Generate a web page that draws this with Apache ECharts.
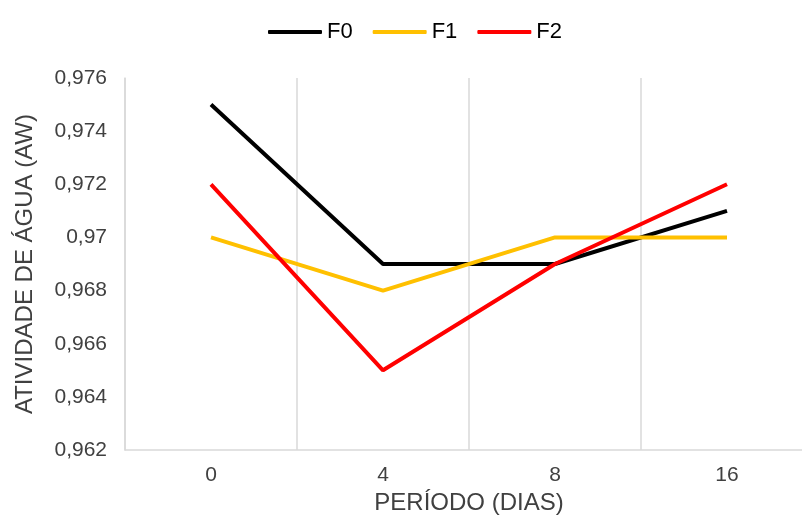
<!DOCTYPE html>
<html>
<head>
<meta charset="utf-8">
<script src="https://cdn.jsdelivr.net/npm/echarts@6/dist/echarts.min.js"></script>
<style>
  html, body { margin: 0; padding: 0; background: #fff; }
  #chart { width: 802px; height: 521px; }
</style>
</head>
<body>
<div id="chart"></div>
<script>
// Water activity over storage period for three formulations
const periods = ['0', '4', '8', '16'];
const seriesNames = ['F0', 'F1', 'F2'];
const f0 = [0.975, 0.969, 0.969, 0.971];
const f1 = [0.970, 0.968, 0.970, 0.970];
const f2 = [0.972, 0.965, 0.969, 0.972];
const colors = ['#000000', '#FFC000', '#FF0000'];

const font = 'Liberation Sans, Arial, sans-serif';
const fmt = v => String(+v.toFixed(3)).replace('.', ',');

const chart = echarts.init(document.getElementById('chart'));
chart.setOption({
  animation: false,
  color: colors,
  legend: {
    top: 16,
    left: 263,
    icon: 'roundRect',
    itemWidth: 54,
    itemHeight: 4,
    itemGap: 20,
    textStyle: { fontFamily: font, fontSize: 22, color: '#000' },
    data: seriesNames
  },
  grid: { left: 125, top: 78, width: 688, height: 372, containLabel: false, outerBoundsMode: 'none' },
  xAxis: {
    type: 'category',
    data: periods,
    boundaryGap: true,
    name: 'PERÍODO (DIAS)',
    nameLocation: 'middle',
    nameGap: 40,
    nameTextStyle: { fontFamily: font, fontSize: 24, color: '#404040' },
    axisLine: { lineStyle: { color: '#D9D9D9', width: 1.5 } },
    axisTick: { show: false },
    axisLabel: { fontFamily: font, fontSize: 21, color: '#404040', margin: 15 },
    splitLine: { show: true, lineStyle: { color: '#D9D9D9', width: 1.5 } }
  },
  yAxis: {
    type: 'value',
    min: 0.962,
    max: 0.976,
    interval: 0.002,
    name: 'ATIVIDADE DE ÁGUA (AW)',
    nameLocation: 'middle',
    nameRotate: 90,
    nameGap: 88,
    nameTextStyle: { fontFamily: font, fontSize: 24, color: '#404040' },
    axisLine: { show: true, lineStyle: { color: '#D9D9D9', width: 1.5 } },
    axisTick: { show: false },
    axisLabel: { fontFamily: font, fontSize: 21, color: '#404040', margin: 18, formatter: fmt },
    splitLine: { show: false }
  },
  series: [
    { name: seriesNames[0], type: 'line', data: f0, symbol: 'none', lineStyle: { width: 4 } },
    { name: seriesNames[1], type: 'line', data: f1, symbol: 'none', lineStyle: { width: 4 } },
    { name: seriesNames[2], type: 'line', data: f2, symbol: 'none', lineStyle: { width: 4 } }
  ]
});
</script>
</body>
</html>
